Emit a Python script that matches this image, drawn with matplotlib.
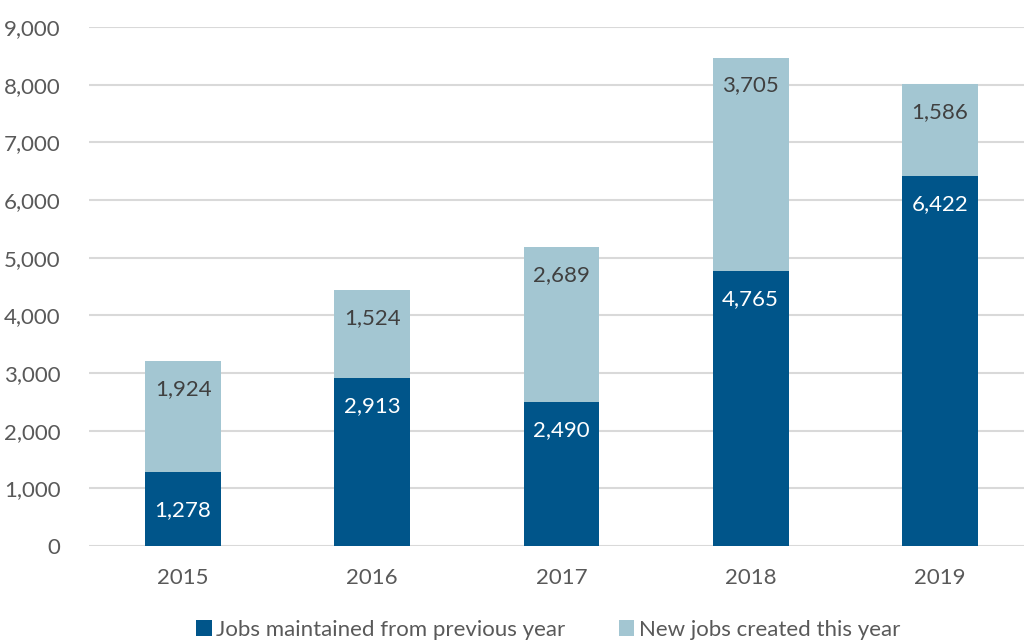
import matplotlib.pyplot as plt
import matplotlib

matplotlib.rcParams['font.family'] = ['Lato', 'DejaVu Sans']
matplotlib.rcParams['font.size'] = 16

years = ['2015', '2016', '2017', '2018', '2019']
maintained = [1278, 2913, 2490, 4765, 6422]
new_jobs = [1924, 1524, 2689, 3705, 1586]

dark = '#00558A'
light = '#A3C6D2'
grid = '#D9D9D9'
txt = '#595959'

fig = plt.figure(figsize=(10.24, 6.41), dpi=100)
ax = fig.add_axes([88.5 / 1024, 1 - 546 / 641, 946 / 1024, 519 / 641])

x = range(len(years))
w = 0.40
b1 = ax.bar(x, maintained, w, color=dark, label='Jobs maintained from previous year', zorder=3)
b2 = ax.bar(x, new_jobs, w, bottom=maintained, color=light, label='New jobs created this year', zorder=3)

# labels sit near the top of each segment (inside end)
for i in x:
    top1 = maintained[i]
    top2 = maintained[i] + new_jobs[i]
    off = -28 if i else -38
    ax.annotate(f'{maintained[i]:,}', xy=(i, top1), xytext=(0, off * 0.72),
                textcoords='offset points', ha='center', va='center',
                color='white', zorder=4)
    ax.annotate(f'{new_jobs[i]:,}', xy=(i, top2), xytext=(0, -28 * 0.72),
                textcoords='offset points', ha='center', va='center',
                color='#404040', zorder=4)

ax.set_xlim(-0.5, 4.5)
ax.set_ylim(0, 9000)
ax.set_yticks(range(0, 9001, 1000))
ax.set_yticklabels([f'{v:,}' for v in range(0, 9001, 1000)])
ax.set_xticks(list(x))
ax.set_xticklabels(years)
ax.yaxis.grid(True, color=grid, lw=1.5, zorder=0)
ax.tick_params(length=0, colors=txt, labelsize=16)
ax.tick_params(axis='y', pad=20)
ax.tick_params(axis='x', pad=16)
for s in ax.spines.values():
    s.set_visible(False)

fig.legend(handles=[b1, b2], loc='center', bbox_to_anchor=(548 / 1024, 1 - 630 / 641),
           ncol=2, frameon=False, handlelength=0.7, handleheight=0.7,
           handletextpad=0.2, columnspacing=2.4, labelcolor=txt, fontsize=16)

plt.savefig('out.png', dpi=100)
